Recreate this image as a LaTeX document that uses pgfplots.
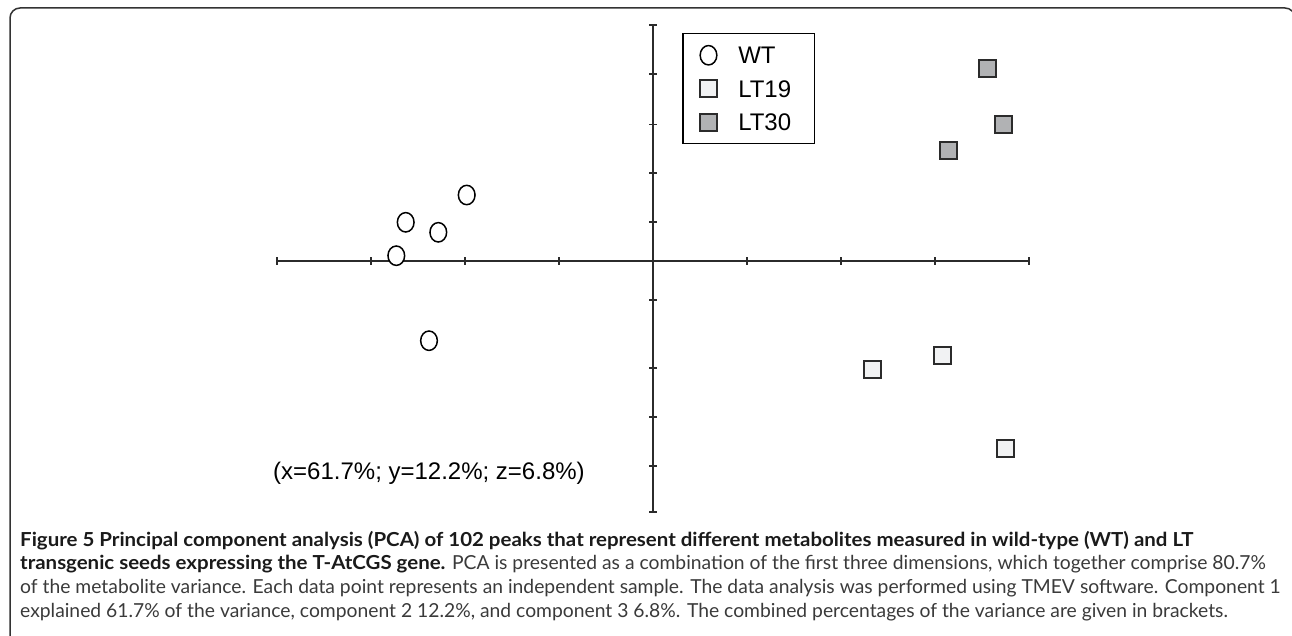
\documentclass[border=0pt]{standalone}
\usepackage{pgfplots}
\pgfplotsset{compat=1.18}
\usepackage{fontspec}
\setmainfont{Liberation Sans}
\newfontfamily\capfont{Lato}[BoldFeatures={FakeStretch=1.06}]
\definecolor{axcol}{HTML}{2B2B2B}
\definecolor{framecol}{HTML}{333333}
\definecolor{ltnineteen}{HTML}{F1F2F3}
\definecolor{ltthirty}{HTML}{B1B2B4}
\definecolor{capbold}{HTML}{1A1A1A}
\definecolor{capreg}{HTML}{3A3A3A}
\pgfplotsset{mylegimg/.style={legend image code/.code={\path (0pt,0pt) (20pt,0pt); \draw[##1] plot coordinates {(10pt,0pt)};}}}
\begin{document}
\begin{tikzpicture}[x=1pt,y=1pt]
\useasboundingbox (0,0) rectangle (1292,-636);
\draw[framecol, line width=1.5pt] (10,-650) -- (10,-18) arc[start angle=180,end angle=90,radius=10] -- (1285,-8) arc[start angle=90,end angle=0,radius=10] -- (1295,-650);
\begin{axis}[
  at={(653,-261)}, anchor=origin,
  x=1pt, y=1pt,
  xmin=-376, xmax=376, ymin=-251, ymax=236,
  enlargelimits=false, clip=false,
  axis lines=middle,
  axis line style={-, axcol, line width=1.8pt},
  xtick={-376,-282,-188,-94,94,188,282,376},
  ytick={236,187,136.5,88,39,-39,-107,-156,-205,-251},
  xticklabels={}, yticklabels={},
  ticklabel style={text opacity=0},
  tick align=center,
  major tick length=8pt,
  tick style={axcol, line width=1.6pt},
  legend cell align=left,
  legend style={at={(axis cs:29,228)}, anchor=north west, draw=black, line width=1.5pt, fill=white,
    font=\fontsize{24}{28}\selectfont, inner xsep=15pt, inner ysep=10pt, row sep=10.5pt, column sep=16pt,
    nodes={inner sep=3pt, text height=17pt, text depth=0pt}},
]
\addplot[only marks, mylegimg, mark=*, mark size=9.7pt, mark options={xscale=0.86, fill=white, draw=black, line width=1.5pt}]
  coordinates {(-186.3,66) (-247.3,38.7) (-214.7,28.7) (-256.7,5.3) (-224,-79.7)};
\addlegendentry{\makebox[58pt][l]{WT}}
\addplot[only marks, mylegimg, mark=square*, mark size=8.5pt, mark options={fill=ltnineteen, draw=axcol, line width=2pt}]
  coordinates {(219.3,-108.7) (289,-94) (352.7,-187.3)};
\addlegendentry{\makebox[58pt][l]{LT19}}
\addplot[only marks, mylegimg, mark=square*, mark size=8.5pt, mark options={fill=ltthirty, draw=axcol, line width=2pt}]
  coordinates {(334.3,192) (350.7,136.7) (295.3,110.3)};
\addlegendentry{\makebox[58pt][l]{LT30}}
\end{axis}
\node[anchor=base west, inner sep=0, font=\fontsize{24}{28}\selectfont, text=black] at (273,-479) {(x=61.7\%; y=12.2\%; z=6.8\%)};
\begin{scope}[every node/.style={anchor=base west, inner sep=0, text=capreg, font=\capfont\fontsize{19.3}{23}\selectfont}]
\node at (20,-546) {\color{capbold}\bfseries Figure 5 Principal component analysis (PCA) of 102 peaks that represent different metabolites measured in wild-type (WT) and LT};
\node at (20,-569) {{\color{capbold}\bfseries transgenic seeds expressing the T-AtCGS gene.} PCA is presented as a combination of the first three dimensions, which together comprise 80.7\%};
\node at (20,-593) {of the metabolite variance. Each data point represents an independent sample. The data analysis was performed using TMEV software. Component 1};
\node at (20,-617) {explained 61.7\% of the variance, component 2 12.2\%, and component 3 6.8\%. The combined percentages of the variance are given in brackets.};
\end{scope}
\end{tikzpicture}
\end{document}
